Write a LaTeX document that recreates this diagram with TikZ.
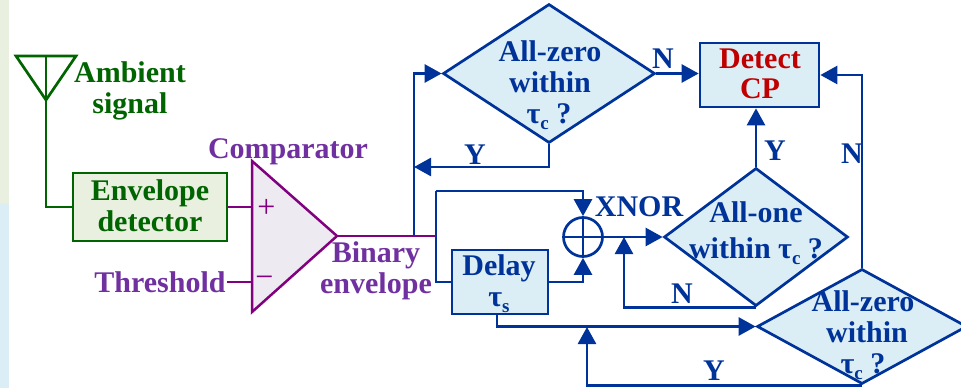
\documentclass[tikz,border=0pt]{standalone}
\usepackage{fontspec}
\setmainfont{Liberation Serif}[BoldFont={Liberation Serif Bold}]
\usetikzlibrary{arrows.meta,shapes.geometric,calc}
\definecolor{bluel}{RGB}{0,51,153}
\definecolor{greenl}{RGB}{0,100,0}
\definecolor{purp}{RGB}{112,48,160}
\definecolor{magl}{RGB}{128,0,128}
\definecolor{redl}{RGB}{192,0,0}
\definecolor{bluef}{RGB}{219,238,245}
\definecolor{greenf}{RGB}{233,240,223}
\definecolor{purpf}{RGB}{238,234,242}
\newcommand{\tausub}[1]{τ\raisebox{-0.22em}{\fontsize{19}{19}\selectfont #1}}
\tikzset{
  txt/.style={anchor=base,inner sep=0pt,font=\fontsize{30}{31}\selectfont\bfseries},
  btxt/.style={txt,text=bluel},
  gtxt/.style={txt,text=greenl},
  ptxt/.style={txt,text=purp},
  rtxt/.style={txt,text=redl},
  blueline/.style={draw=bluel,line width=2.7pt},
  arr/.style={blueline,-{Triangle[length=17pt,width=18pt]}},
  bluebox/.style={rectangle,draw=bluel,line width=2.7pt,fill=bluef,inner sep=0pt},
  decide/.style={diamond,draw=bluel,line width=2.7pt,fill=bluef,inner sep=0pt},
  greenline/.style={draw=greenl,line width=2.7pt},
  magline/.style={draw=magl,line width=2.5pt},
}
\begin{document}
\begin{tikzpicture}[x=1pt,y=-1pt]
\useasboundingbox (0,0) rectangle (961,388);
\clip (0,0) rectangle (961,388);
% background strips
\fill[greenf] (0,0) rectangle (9,203);
\fill[bluef] (0,203) rectangle (9,388);
% shapes
\node[rectangle,draw=greenl,line width=2.7pt,fill=greenf,minimum width=154pt,minimum height=68pt,inner sep=0pt] (env) at (150,207) {};
\coordinate (tl) at (252,161);
\coordinate (bl) at (252,312);
\coordinate (tip) at (337,236);
\coordinate (plusin) at (252,207);
\coordinate (minusin) at (252,282);
\coordinate (thr) at (227,282);
\draw[magline,fill=purpf] (tl) -- (tip) -- (bl) -- cycle;
\coordinate (antL) at (16,56);
\coordinate (antR) at (76,56);
\coordinate (antB) at (46,100);
\coordinate (antT) at (46,56);
\draw[greenline,line join=miter] (antL) -- (antR) -- (antB) -- cycle;
\draw[greenline] (antT) -- (antB);
\draw[greenline] (antB) |- (env.west);
\draw[magline] (env.east |- plusin) -- (plusin);
\draw[magline] (thr) -- (minusin);
\node[decide,minimum width=212pt,minimum height=139pt] (dA) at (549,73.5) {};
\node[bluebox,minimum width=119pt,minimum height=64pt] (det) at (759.5,75) {};
\node[decide,minimum width=184pt,minimum height=138pt] (dB) at (756,237) {};
\node[decide,minimum width=210pt,minimum height=115pt] (dC) at (862,326.5) {};
\node[bluebox,minimum width=96pt,minimum height=64pt] (del) at (500,282) {};
\node[circle,draw=bluel,line width=2.7pt,minimum size=39pt,inner sep=0pt] (xn) at (583,237) {};
\draw[blueline] (xn.north) -- (xn.south) (xn.west) -- (xn.east);
% junctions
\coordinate (j1) at (414,236);
\coordinate (j2) at (436,236);
\coordinate (j3) at (436,191);
\coordinate (j4) at (436,282);
\coordinate (j5) at (414,167);
\coordinate (j6) at (624,237);
\coordinate (j7) at (587,327);
\coordinate (delb) at (497,314);
% connectors
\draw[arr] (j1) |- (dA.west);
\draw[arr] (dA.east) -- (dA.east -| det.west);
\draw[arr] (dA.south) |- (j5);
\draw[blueline] (j3) -- (j4) -- (del.west);
\draw[arr] (j3) -| (xn.north);
\draw[arr] (del.east) -| (xn.south);
\draw[arr] (xn.east) -- (dB.west);
\draw[arr] (dB.north) -- (dB.north |- det.south);
\draw[arr] (dB.south) -| (j6);
\draw[arr] (delb) |- (dC.west);
\draw[arr] (dC.south) -| (j7);
\draw[arr] (dC.north) |- (det.east |- 0,75);
\draw[magline] (tip) -- (j2);
% comparator signs
\node[inner sep=0pt,text=magl,font=\fontsize{32}{32}\selectfont] (plus) at (266.5,208) {+};
\node[inner sep=0pt,text=magl,font=\fontsize{32}{32}\selectfont] (minus) at (264.5,282) {−};
% text
\node[gtxt] (t1) at (130,82) {Ambient};
\node[gtxt] (t2) at (130,113) {signal};
\node[gtxt] (t3) at (150,200) {Envelope};
\node[gtxt] (t4) at (150,231) {detector};
\node[ptxt] (t5) at (288,158) {Comparator};
\node[ptxt] (t6) at (160,292) {Threshold};
\node[ptxt] (t7) at (376,262) {Binary};
\node[ptxt] (t8) at (376,293) {envelope};
\node[btxt] (t9) at (550,61) {All-zero};
\node[btxt] (t10) at (550,92) {within};
\node[btxt] (t11) at (549,123) {\tausub{c} ?};
\node[btxt] (n1) at (663,68) {N};
\node[rtxt] (t12) at (760,68) {Detect};
\node[rtxt] (t13) at (760,98) {CP};
\node[btxt] (y1) at (475,164) {Y};
\node[btxt] (t14) at (639,216) {XNOR};
\node[btxt] (t15) at (756,222) {All-one};
\node[btxt] (t16) at (756,258) {within \tausub{c} ?};
\node[btxt] (y2) at (775,160) {Y};
\node[btxt] (n2) at (852,163) {N};
\node[btxt] (n3) at (682,303) {N};
\node[btxt] (t17) at (499,275) {Delay};
\node[btxt] (t18) at (499,306) {\tausub{s}};
\node[btxt] (t19) at (863,311) {All-zero};
\node[btxt] (t20) at (867,342) {within};
\node[btxt] (t21) at (863,373) {\tausub{c} ?};
\node[btxt] (y3) at (714,380) {Y};
\end{tikzpicture}
\end{document}
